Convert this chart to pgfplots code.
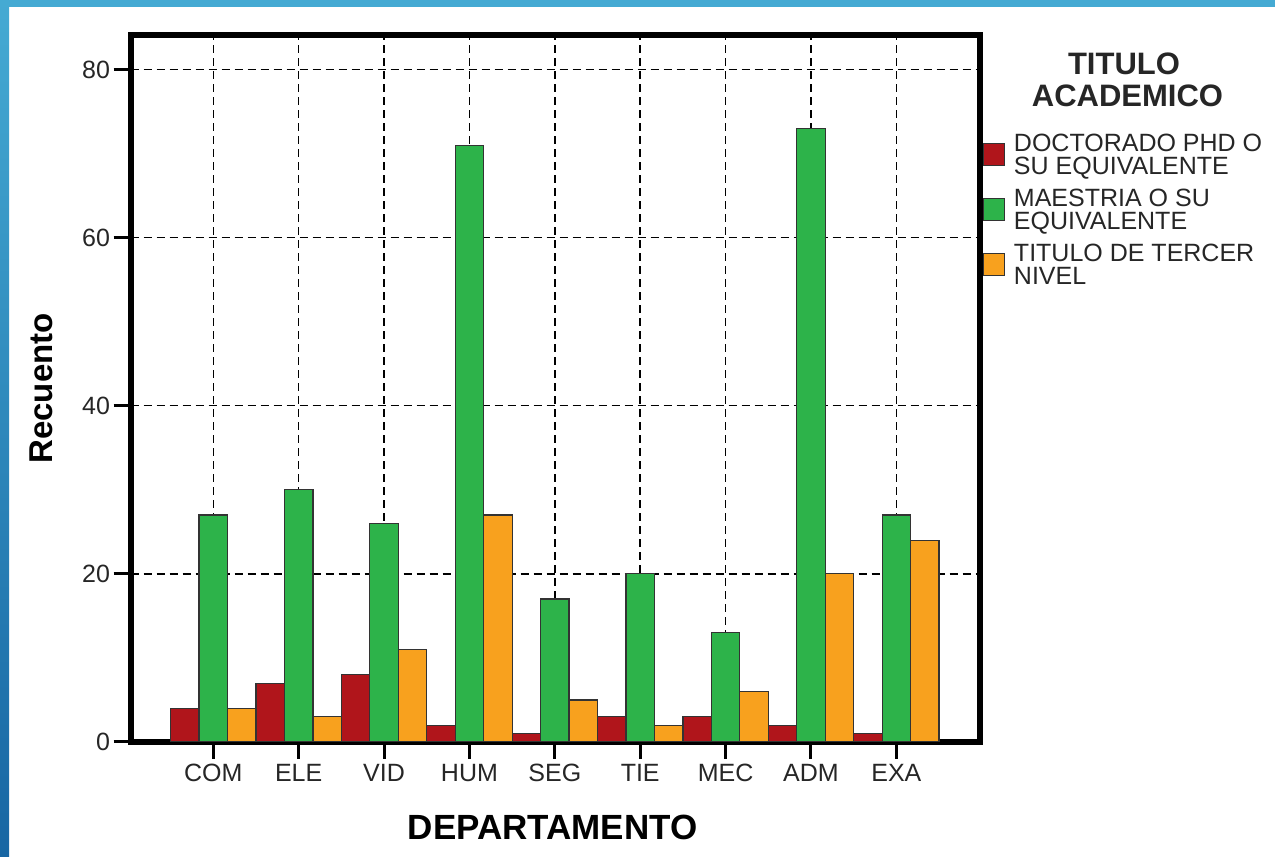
\documentclass[border=0pt]{standalone}
\usepackage{pgfplots}
\pgfplotsset{compat=1.18}
\usepackage{fontspec}
\setmainfont{Liberation Sans}

\definecolor{phd}{HTML}{B0151B}
\definecolor{msc}{HTML}{2DB34A}
\definecolor{ter}{HTML}{F8A11E}
\definecolor{frameA}{HTML}{45AAD3}
\definecolor{frameB}{HTML}{1766A3}

\pgfplotsset{
  sq legend/.style={
    legend image code/.code={\draw[##1, line width=1bp] (0bp,-11bp) rectangle (21bp,11bp);}
  },
}

\begin{document}
\begin{tikzpicture}[x=1bp,y=1bp]
\useasboundingbox (0,0) rectangle (1275,857);
% slide frame
\fill[frameA] (0,850) rectangle (1275,857);
\shade[top color=frameA, bottom color=frameB] (0,0) rectangle (9,857);

\begin{axis}[
  at={(130.5bp,115bp)}, anchor=south west,
  scale only axis, width=849.5bp, height=707bp,
  xmin=-0.97, xmax=8.98, ymin=0, ymax=84.1,
  ybar, bar width=0.3333,
  xtick={0,...,8},
  xticklabels={COM,ELE,VID,HUM,SEG,TIE,MEC,ADM,EXA},
  ytick={0,20,40,60,80},
  tick pos=left, tick align=outside,
  major tick length=17bp,
  every tick/.style={black, line width=3bp},
  axis line style={line width=6bp},
  grid=major,
  major grid style={black, line width=1.5bp, dash pattern=on 8bp off 5bp},
  /pgf/number format/assume math mode=true,
  tick label style={font=\fontsize{25bp}{27bp}\selectfont, text=black!85},
  xticklabel style={yshift=-2bp},
  every axis x label/.style={at={(axis description cs:0.497,-0.1386)}, anchor=base,
    font=\bfseries\fontsize{35bp}{37bp}\selectfont},
  every axis y label/.style={at={(axis description cs:-0.0924,0.5)}, anchor=base, rotate=90,
    font=\bfseries\fontsize{33bp}{35bp}\selectfont},
  xlabel={DEPARTAMENTO}, ylabel={Recuento},
  legend style={at={(axis description cs:1.0035,0.86)}, anchor=north west,
    draw=none, fill=none, inner sep=0pt, outer sep=0pt,
    row sep=13bp, column sep=9bp,
    font=\fontsize{25bp}{23bp}\selectfont,
    nodes={align=left, inner sep=0pt, text=black!85},
    cells={anchor=west}},
]
\addplot[fill=phd, draw=black!80, line width=1.2bp, bar shift=-0.3333, sq legend]
  coordinates {(0,4) (1,7) (2,8) (3,2) (4,1) (5,3) (6,3) (7,2) (8,1)};
\addlegendentry{{DOCTORADO PHD O\\SU EQUIVALENTE}}
\addplot[fill=msc, draw=black!80, line width=1.2bp, bar shift=0, sq legend]
  coordinates {(0,27) (1,30) (2,26) (3,71) (4,17) (5,20) (6,13) (7,73) (8,27)};
\addlegendentry{{MAESTRIA O SU\\EQUIVALENTE}}
\addplot[fill=ter, draw=black!80, line width=1.2bp, bar shift=0.3333, sq legend]
  coordinates {(0,4) (1,3) (2,11) (3,27) (4,5) (5,2) (6,6) (7,20) (8,24)};
\addlegendentry{{TITULO DE TERCER\\NIVEL}}
\end{axis}

\node[anchor=base, font=\bfseries\fontsize{31bp}{33bp}\selectfont, text=black!85, inner sep=0pt]
  at (1124,782) {TITULO};
\node[anchor=base, font=\bfseries\fontsize{31bp}{33bp}\selectfont, text=black!85, inner sep=0pt]
  at (1127.5,750) {ACADEMICO};
\end{tikzpicture}
\end{document}
